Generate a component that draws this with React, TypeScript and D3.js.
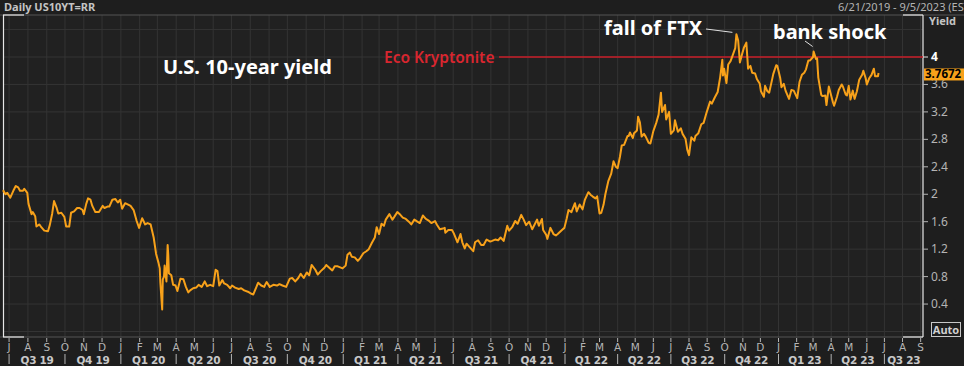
import React from "react";
import * as d3 from "d3";

// ---- DATA ----
const yieldSeries: [string, number][] = [
  ["2019-06-21",2.06],["2019-06-25",2.00],["2019-06-28",2.02],["2019-07-03",1.95],["2019-07-08",2.05],["2019-07-12",2.12],["2019-07-16",2.10],["2019-07-19",2.05],["2019-07-24",2.05],["2019-07-26",2.08],["2019-07-31",2.02],["2019-08-02",1.86],["2019-08-07",1.71],["2019-08-09",1.74],["2019-08-13",1.68],["2019-08-15",1.53],["2019-08-20",1.56],["2019-08-23",1.52],["2019-08-28",1.47],["2019-09-03",1.46],["2019-09-06",1.55],["2019-09-10",1.72],["2019-09-13",1.90],["2019-09-17",1.81],["2019-09-20",1.72],["2019-09-25",1.73],["2019-09-30",1.67],["2019-10-03",1.53],["2019-10-08",1.53],["2019-10-11",1.73],["2019-10-16",1.75],["2019-10-21",1.80],["2019-10-25",1.80],["2019-10-30",1.77],["2019-11-01",1.71],["2019-11-05",1.86],["2019-11-08",1.94],["2019-11-12",1.92],["2019-11-15",1.83],["2019-11-20",1.74],["2019-11-26",1.74],["2019-12-02",1.83],["2019-12-05",1.80],["2019-12-10",1.82],["2019-12-13",1.82],["2019-12-18",1.92],["2019-12-23",1.93],["2019-12-27",1.88],["2019-12-31",1.92],
  ["2020-01-03",1.79],["2020-01-08",1.87],["2020-01-13",1.85],["2020-01-17",1.83],["2020-01-22",1.77],["2020-01-27",1.61],["2020-01-31",1.51],["2020-02-05",1.65],["2020-02-10",1.56],["2020-02-14",1.58],["2020-02-19",1.56],["2020-02-24",1.37],["2020-02-28",1.13],["2020-03-03",1.00],["2020-03-05",0.92],["2020-03-06",0.71],["2020-03-09",0.32],["2020-03-10",0.76],["2020-03-12",0.80],["2020-03-13",0.96],["2020-03-16",0.73],["2020-03-18",1.26],["2020-03-19",1.12],["2020-03-20",0.85],["2020-03-24",0.82],["2020-03-27",0.68],["2020-03-31",0.67],["2020-04-03",0.59],["2020-04-08",0.77],["2020-04-13",0.76],["2020-04-17",0.65],["2020-04-21",0.57],["2020-04-24",0.60],["2020-04-29",0.63],["2020-05-04",0.64],["2020-05-08",0.68],["2020-05-13",0.65],["2020-05-18",0.73],["2020-05-22",0.66],["2020-05-27",0.68],["2020-06-01",0.66],["2020-06-05",0.90],["2020-06-08",0.88],["2020-06-11",0.67],["2020-06-16",0.75],["2020-06-19",0.70],["2020-06-24",0.68],["2020-06-29",0.63],["2020-07-02",0.67],["2020-07-07",0.64],["2020-07-13",0.62],["2020-07-17",0.63],["2020-07-22",0.60],["2020-07-28",0.58],["2020-08-03",0.55],["2020-08-06",0.54],["2020-08-12",0.67],["2020-08-14",0.71],["2020-08-19",0.67],["2020-08-24",0.65],["2020-08-26",0.69],["2020-08-28",0.72],["2020-09-02",0.65],["2020-09-08",0.68],["2020-09-14",0.67],["2020-09-18",0.69],["2020-09-23",0.67],["2020-09-29",0.65],["2020-10-05",0.77],["2020-10-09",0.78],["2020-10-14",0.73],["2020-10-19",0.78],["2020-10-23",0.84],["2020-10-28",0.78],["2020-11-02",0.86],["2020-11-06",0.82],["2020-11-10",0.97],["2020-11-16",0.90],["2020-11-20",0.83],["2020-11-25",0.88],["2020-12-01",0.93],["2020-12-04",0.97],["2020-12-09",0.93],["2020-12-14",0.89],["2020-12-18",0.95],["2020-12-23",0.95],["2020-12-31",0.92],
  ["2021-01-05",0.96],["2021-01-08",1.12],["2021-01-12",1.15],["2021-01-15",1.09],["2021-01-20",1.08],["2021-01-25",1.03],["2021-01-29",1.07],["2021-02-03",1.14],["2021-02-08",1.17],["2021-02-12",1.20],["2021-02-17",1.29],["2021-02-22",1.37],["2021-02-25",1.52],["2021-03-01",1.42],["2021-03-05",1.57],["2021-03-09",1.54],["2021-03-12",1.63],["2021-03-18",1.71],["2021-03-23",1.63],["2021-03-26",1.67],["2021-03-31",1.74],["2021-04-05",1.70],["2021-04-09",1.66],["2021-04-14",1.64],["2021-04-19",1.60],["2021-04-23",1.56],["2021-04-28",1.63],["2021-05-03",1.60],["2021-05-07",1.58],["2021-05-12",1.69],["2021-05-17",1.64],["2021-05-21",1.62],["2021-05-26",1.58],["2021-06-01",1.61],["2021-06-04",1.56],["2021-06-09",1.49],["2021-06-14",1.50],["2021-06-17",1.51],["2021-06-18",1.44],["2021-06-23",1.48],["2021-06-29",1.48],["2021-07-02",1.43],["2021-07-08",1.30],["2021-07-13",1.42],["2021-07-16",1.30],["2021-07-20",1.21],["2021-07-23",1.28],["2021-07-28",1.23],["2021-08-03",1.17],["2021-08-06",1.30],["2021-08-11",1.33],["2021-08-16",1.26],["2021-08-20",1.26],["2021-08-25",1.34],["2021-08-31",1.31],["2021-09-03",1.32],["2021-09-08",1.34],["2021-09-13",1.33],["2021-09-17",1.37],["2021-09-22",1.32],["2021-09-28",1.54],["2021-10-01",1.47],["2021-10-06",1.52],["2021-10-11",1.61],["2021-10-15",1.57],["2021-10-21",1.70],["2021-10-25",1.63],["2021-10-29",1.55],["2021-11-03",1.60],["2021-11-08",1.49],["2021-11-12",1.56],["2021-11-16",1.63],["2021-11-19",1.54],["2021-11-24",1.64],["2021-11-26",1.48],["2021-12-01",1.41],["2021-12-03",1.35],["2021-12-08",1.51],["2021-12-13",1.42],["2021-12-17",1.40],["2021-12-20",1.42],["2021-12-27",1.48],["2021-12-31",1.51],
  ["2022-01-04",1.65],["2022-01-07",1.77],["2022-01-12",1.74],["2022-01-18",1.87],["2022-01-21",1.75],["2022-01-26",1.85],["2022-01-31",1.78],["2022-02-04",1.92],["2022-02-10",2.03],["2022-02-14",1.99],["2022-02-17",1.97],["2022-02-22",1.94],["2022-02-25",1.97],["2022-03-01",1.72],["2022-03-04",1.73],["2022-03-08",1.85],["2022-03-11",2.00],["2022-03-16",2.19],["2022-03-21",2.30],["2022-03-25",2.48],["2022-03-29",2.40],["2022-04-01",2.38],["2022-04-05",2.55],["2022-04-08",2.71],["2022-04-12",2.72],["2022-04-18",2.85],["2022-04-20",2.85],["2022-04-22",2.90],["2022-04-27",2.82],["2022-04-29",2.89],["2022-05-04",2.93],["2022-05-06",3.13],["2022-05-09",3.05],["2022-05-12",2.84],["2022-05-16",2.88],["2022-05-19",2.84],["2022-05-24",2.75],["2022-05-27",2.74],["2022-06-01",2.92],["2022-06-06",3.04],["2022-06-10",3.16],["2022-06-14",3.48],["2022-06-16",3.20],["2022-06-21",3.30],["2022-06-23",3.09],["2022-06-28",3.20],["2022-07-01",2.88],["2022-07-06",2.93],["2022-07-08",3.08],["2022-07-13",2.91],["2022-07-18",2.96],["2022-07-21",2.88],["2022-07-26",2.81],["2022-07-29",2.65],["2022-08-01",2.57],["2022-08-05",2.83],["2022-08-10",2.78],["2022-08-12",2.85],["2022-08-17",2.89],["2022-08-22",3.02],["2022-08-26",3.04],["2022-08-31",3.19],["2022-09-06",3.35],["2022-09-09",3.32],["2022-09-14",3.41],["2022-09-19",3.49],["2022-09-23",3.69],["2022-09-27",3.96],["2022-09-28",3.73],["2022-09-30",3.83],["2022-10-04",3.62],["2022-10-07",3.89],["2022-10-11",3.94],["2022-10-14",4.01],["2022-10-19",4.13],["2022-10-21",4.33],["2022-10-24",4.24],["2022-10-27",3.92],["2022-10-31",4.05],["2022-11-03",4.14],["2022-11-07",4.21],["2022-11-10",3.83],["2022-11-14",3.87],["2022-11-17",3.77],["2022-11-22",3.76],["2022-11-25",3.68],["2022-11-30",3.61],["2022-12-02",3.50],["2022-12-07",3.42],["2022-12-09",3.58],["2022-12-13",3.50],["2022-12-16",3.48],["2022-12-21",3.67],["2022-12-23",3.75],["2022-12-28",3.88],["2022-12-30",3.87],
  ["2023-01-04",3.69],["2023-01-06",3.56],["2023-01-10",3.61],["2023-01-13",3.51],["2023-01-19",3.39],["2023-01-23",3.52],["2023-01-27",3.51],["2023-02-02",3.40],["2023-02-06",3.64],["2023-02-10",3.74],["2023-02-14",3.77],["2023-02-17",3.82],["2023-02-21",3.95],["2023-02-24",3.95],["2023-03-01",4.00],["2023-03-02",4.08],["2023-03-06",3.97],["2023-03-08",3.98],["2023-03-10",3.70],["2023-03-13",3.55],["2023-03-15",3.45],["2023-03-17",3.43],["2023-03-22",3.44],["2023-03-24",3.30],["2023-03-28",3.57],["2023-03-31",3.47],["2023-04-04",3.34],["2023-04-06",3.29],["2023-04-11",3.42],["2023-04-14",3.52],["2023-04-19",3.60],["2023-04-21",3.57],["2023-04-26",3.45],["2023-04-28",3.44],["2023-05-01",3.58],["2023-05-04",3.38],["2023-05-08",3.51],["2023-05-11",3.39],["2023-05-15",3.50],["2023-05-19",3.67],["2023-05-24",3.74],["2023-05-26",3.80],["2023-05-30",3.69],["2023-06-01",3.60],["2023-06-05",3.69],["2023-06-09",3.74],["2023-06-13",3.83],["2023-06-15",3.72],["2023-06-20",3.72],["2023-06-21",3.7672],
];
const yTicks = [0.4, 0.8, 1.2, 1.6, 2, 2.4, 2.8, 3.2, 3.6, 4];
const gridValues = [0, 0.4, 0.8, 1.2, 1.6, 2, 2.4, 2.8, 3.2, 3.6, 4, 4.4];
const monthLetters = ["J", "F", "M", "A", "M", "J", "J", "A", "S", "O", "N", "D"];
const axisStart = "2019-06-21";
const axisBreak = "2022-01-01";
const axisEnd = "2023-09-05";
const kryptoniteLevel = 4;
const lastValueLabel = "3.7672";
const headerTitle = "Daily US10YT=RR";
const headerRange = "6/21/2019 - 9/5/2023 (EST)";
const chartTitle = "U.S. 10-year yield";
const ftxLabel = "fall of FTX";
const ftxDate = "2022-10-21";
const bankLabel = "bank shock";
const bankDate = "2023-03-02";
const kryptoniteLabel = "Eco Kryptonite";

const W = 964, H = 366;
const L = 3, R = 923, T = 15, B = 337;
const parse = d3.timeParse("%Y-%m-%d");

export default function App() {
  const data = yieldSeries.map(([d, v]) => ({ date: parse(d)!, v }));
  const x = d3.scaleTime()
    .domain([parse(axisStart)!, parse(axisBreak)!, parse(axisEnd)!])
    .range([L, 565, R]);
  const y = d3.scaleLinear().domain([0, 4]).range([331.5, 57]);
  const line = d3.line<{ date: Date; v: number }>().x(d => x(d.date)).y(d => y(d.v));

  const months = d3.timeMonth.range(d3.timeMonth.ceil(parse(axisStart)!), parse(axisEnd)!);
  const quarterStarts = months.filter(m => m.getMonth() % 3 === 0);
  const quarters = quarterStarts.map(q => {
    const end = d3.timeMonth.offset(q, 3);
    const x0 = x(q), x1 = Math.min(x(end), R);
    return { q, x0, mid: (x0 + x1) / 2, label: `Q${Math.floor(q.getMonth() / 3) + 1} ${String(q.getFullYear()).slice(2)}` };
  });

  const last = data[data.length - 1];
  const fmt = d3.timeFormat("%Y-%m-%d");
  const ftx = data.find(d => fmt(d.date) === ftxDate)!;
  const bank = data.find(d => fmt(d.date) === bankDate)!;

  const font = "'Noto Sans', 'DejaVu Sans', sans-serif";
  const axisFont = "'DejaVu Sans', sans-serif";
  const grey = "#b4b4b4";

  return (
    <svg width={W} height={H} style={{ position: "absolute", left: 0, top: 0, background: "#1e1e1e" }} fontFamily={font}>
      <rect x={0} y={0} width={W} height={H} fill="#1e1e1e" />
      <rect x={L} y={T} width={R - L} height={B - T} fill="#212121" />
      {/* grid */}
      {months.map((m, i) => (
        <line key={"vg" + i} x1={x(m)} x2={x(m)} y1={T} y2={B} stroke="#343434" strokeWidth={1} />
      ))}
      {gridValues.map(v => (
        <line key={"hg" + v} x1={L} x2={R} y1={y(v)} y2={y(v)} stroke="#343434" strokeWidth={1} />
      ))}
      {/* frame */}
      <line x1={0} x2={W} y1={T} y2={T} stroke="#555" />
      <line x1={0} x2={R} y1={B} y2={B} stroke="#555" />
      <line x1={L + 0.5} x2={L + 0.5} y1={T} y2={B} stroke="#e8e8e8" strokeWidth={1.2} />
      <line x1={L} x2={L + 21} y1={T} y2={T} stroke="#e8e8e8" strokeWidth={1.2} />
      <line x1={L} x2={L + 21} y1={B} y2={B} stroke="#e8e8e8" strokeWidth={1.2} />
      <line x1={R} x2={R} y1={T} y2={B} stroke="#e8e8e8" strokeWidth={1.2} />
      <line x1={R - 20} x2={R} y1={T} y2={T} stroke="#e8e8e8" strokeWidth={1.2} />
      <line x1={R - 20} x2={R} y1={B} y2={B} stroke="#e8e8e8" strokeWidth={1.2} />

      {/* Eco Kryptonite */}
      <line x1={499} x2={R} y1={y(kryptoniteLevel)} y2={y(kryptoniteLevel)} stroke="#c81e28" strokeWidth={1.3} />
      <text x={384} y={y(kryptoniteLevel) + 5.5} fill="#d8262f" fontSize={15.5} fontWeight={600}>{kryptoniteLabel}</text>

      {/* series */}
      <path d={line(data)!} fill="none" stroke="#f7a11a" strokeWidth={2} strokeLinejoin="round" />

      {/* annotations */}
      <text x={163} y={74} fill="#ffffff" fontSize={20} fontWeight={700}>{chartTitle}</text>
      <text x={604} y={35} fill="#ffffff" fontSize={20} fontWeight={700}>{ftxLabel}</text>
      <line x1={706} y1={29} x2={x(ftx.date) - 4} y2={y(ftx.v) - 2} stroke="#e0e0e0" strokeWidth={1} />
      <text x={773} y={39} fill="#ffffff" fontSize={20} fontWeight={700}>{bankLabel}</text>
      <line x1={805} y1={41} x2={x(bank.date) - 1} y2={y(bank.v) - 5} stroke="#e0e0e0" strokeWidth={1} />

      {/* header */}
      <text x={4} y={11} fill="#c4c4c4" fontSize={11} fontWeight={700}>{headerTitle}</text>
      <text x={838} y={11} fill={grey} fontSize={11}>{headerRange}</text>
      <text x={929} y={25} fill="#c4c4c4" fontSize={11} fontWeight={700}>Yield</text>

      {/* y axis */}
      {yTicks.map(v => (
        <g key={"yt" + v}>
          <line x1={R} x2={R + 5} y1={y(v)} y2={y(v)} stroke={v === 4 ? "#e8e8e8" : grey} />
          <text x={931} y={y(v) + 4} fill={v === 4 ? "#ffffff" : grey} fontSize={12} fontWeight={v === 4 ? 700 : 400}>{String(v)}</text>
        </g>
      ))}
      <rect x={924} y={y(last.v) - 4.5} width={40} height={12} fill="#f7a11a" />
      <text x={925} y={y(last.v) + 5.5} fill="#000" fontSize={11.5} fontWeight={700}>{lastValueLabel}</text>
      <rect x={931.5} y={322.5} width={29} height={14} fill="none" stroke="#c8c8c8" strokeWidth={1} />
      <text x={946} y={334} fill="#d0d0d0" fontSize={11} fontWeight={700} textAnchor="middle">Auto</text>

      {/* x axis */}
      <g fontFamily={axisFont}>
        {months.map((m, i) => (
          <g key={"mt" + i}>
            <line x1={x(m)} x2={x(m)} y1={B + 1} y2={B + 5} stroke={grey} />
            <text x={x(m)} y={350.5} fill={grey} fontSize={10.5} textAnchor="middle">{monthLetters[m.getMonth()]}</text>
          </g>
        ))}
        {quarters.map((q, i) => (
          <g key={"q" + i}>
            <line x1={q.x0} x2={q.x0} y1={354} y2={364} stroke={grey} />
            <text x={q.mid} y={364} fill="#c8c8c8" fontSize={10.5} fontWeight={700} letterSpacing={-0.3} textAnchor="middle">{q.label}</text>
          </g>
        ))}
      </g>
    </svg>
  );
}
